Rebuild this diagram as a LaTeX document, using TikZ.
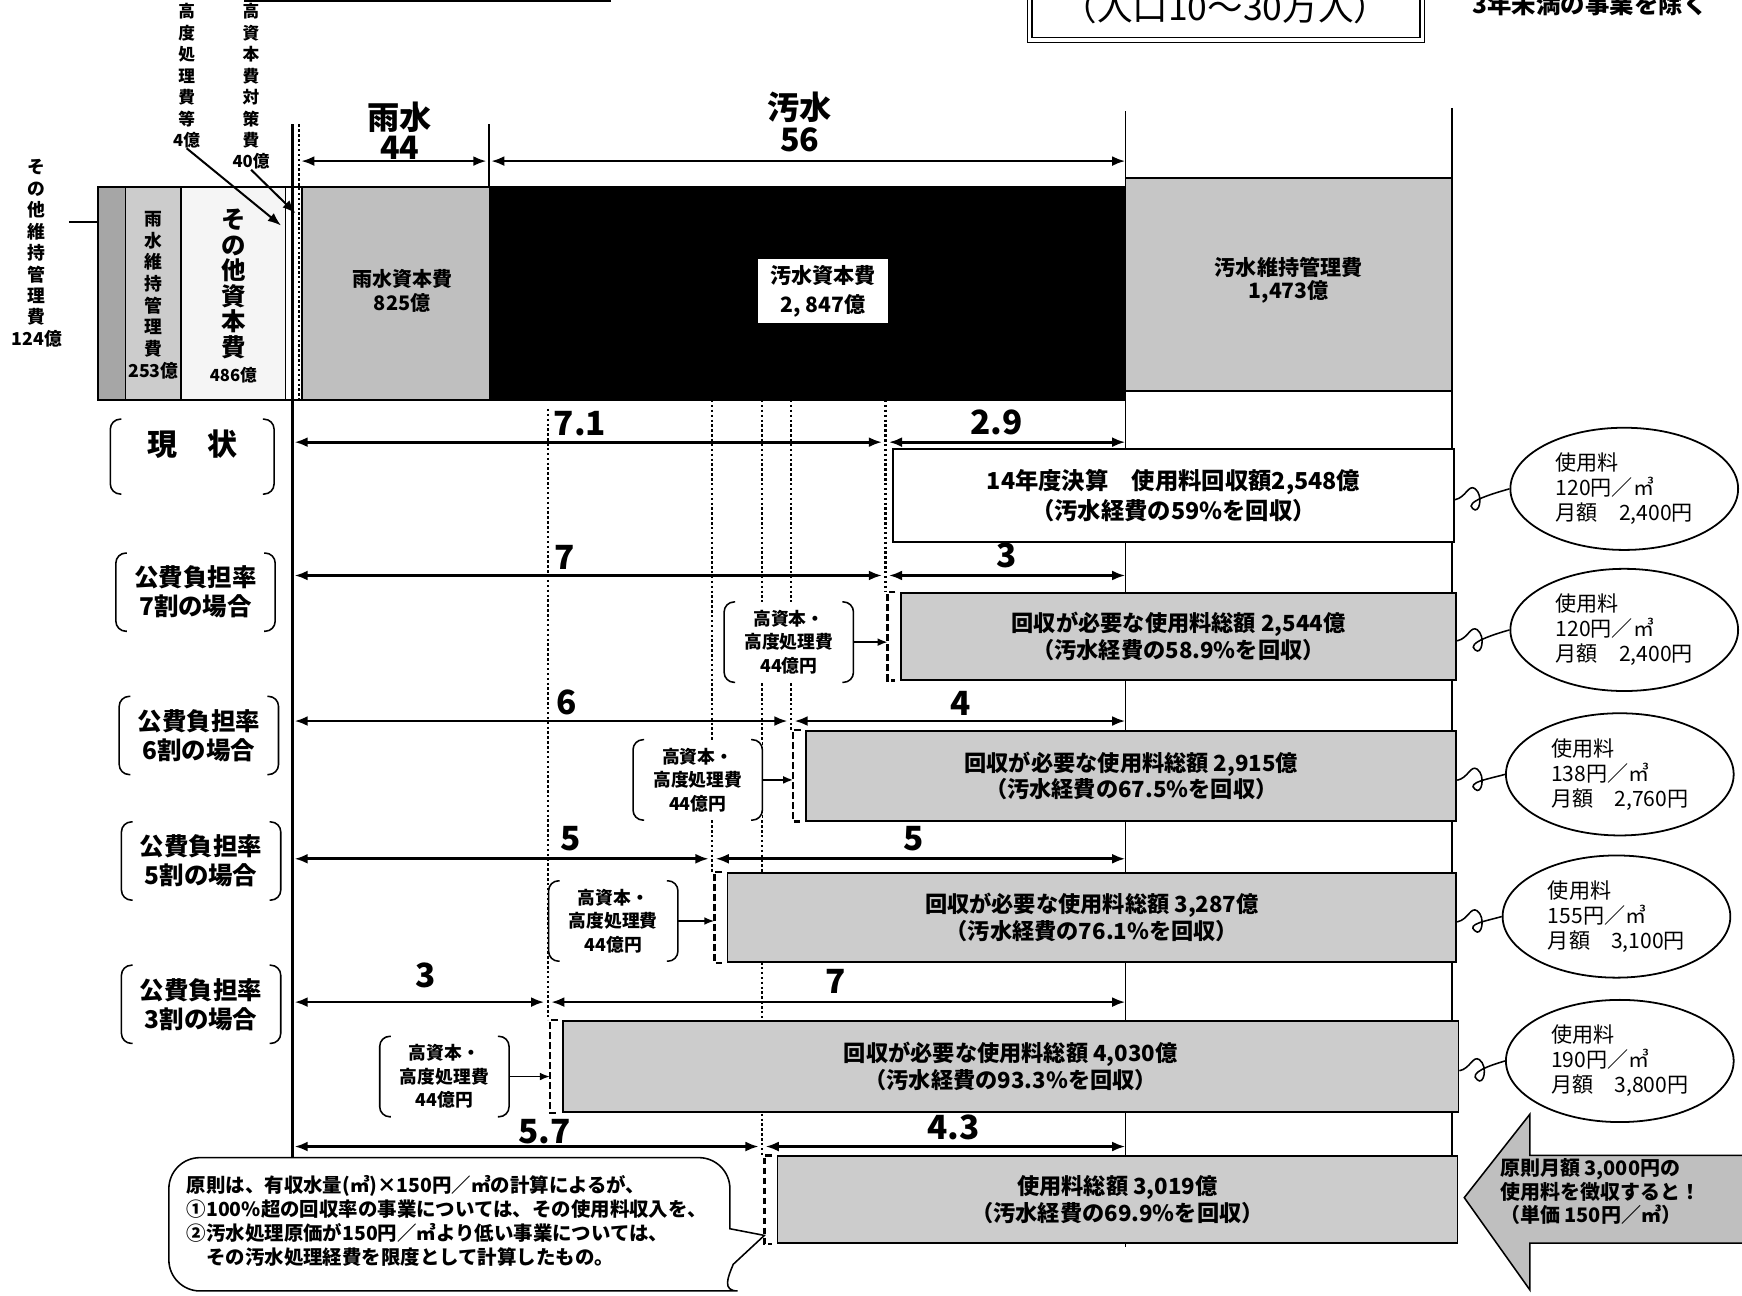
\documentclass[tikz,border=0pt]{standalone}
\usepackage{fontspec}
\setmainfont{Noto Sans CJK JP}
\usetikzlibrary{shapes.geometric,arrows,arrows.meta,calc,positioning}

\newcommand{\kakko}[1]{%
\draw[paren] ([xshift=10pt]#1.north west) -- (#1.north west) -- (#1.south west) -- ([xshift=10pt]#1.south west);
\draw[paren] ([xshift=-10pt]#1.north east) -- (#1.north east) -- (#1.south east) -- ([xshift=-10pt]#1.south east);}
\newcommand{\dbrack}[1]{%
\draw[dbr] ([xshift=-4pt]#1.north west) -- ([xshift=-11pt]#1.north west) -- ([xshift=-11pt]#1.south west) -- ([xshift=-4pt]#1.south west);}

\begin{document}
\begin{tikzpicture}[x=1pt,y=-1pt,>={Latex[length=12pt,width=9pt]},
  dim/.style={<->,line width=2.4pt},
  guide/.style={dash pattern=on 2.2pt off 2.2pt,line width=2pt},
  frame/.style={line width=1.6pt},
  rowbox/.style={draw,line width=1.6pt,anchor=north west,align=center,inner sep=0pt,font=\fontsize{20}{24}\selectfont\bfseries},
  hatch/.style={rowbox,fill=gray!40},
  num/.style={font=\fontsize{30}{30}\selectfont\bfseries},
  side/.style={minimum width=143,minimum height=70,align=center,font=\fontsize{22}{26}\selectfont\bfseries},
  kbox/.style={minimum width=116,minimum height=72,fill=white,align=center,font=\fontsize{16}{21}\selectfont\bfseries},
  pill/.style={ellipse,draw,line width=1.6pt,fill=white,minimum width=205,minimum height=110,align=left,font=\fontsize{19}{22.5}\selectfont},
  curl/.style={line width=1.4pt},
  dbr/.style={dash pattern=on 6pt off 3pt,line width=2.2pt},
  vtxt/.style={align=center,inner sep=0pt,font=\fontsize{16}{19.3}\selectfont\bfseries},
  paren/.style={line width=1.4pt,rounded corners=9pt}]
\useasboundingbox (0,0) rectangle (1568,1166);
\clip (0,0) rectangle (1568,1166);

% header remains
\draw[line width=2pt] (220,1) -- (550,1);
\draw[line width=1.2pt] (925,-40) rectangle (1282,38);
\draw[line width=1.2pt] (929,-40) rectangle (1278,34);
\node[font=\fontsize{32}{32}\selectfont] (pop) at (1103,6) {（人口10～30万人）};
\node[anchor=west,font=\fontsize{22}{22}\selectfont\bfseries] (excl) at (1322,4) {3年未満の事業を除く};

% stacked bar
\fill[gray!70] (88,168) rectangle (113,360);
\fill[gray!40] (113,168) rectangle (163,360);
\fill[gray!8] (163,168) rectangle (257,360);
\fill[gray!50] (272,168) rectangle (440,360);
\fill[black] (440,168) rectangle (1013,360);
\draw[frame] (88,168) rectangle (1013,360);
\draw[frame] (113,168) -- (113,360) (163,168) -- (163,360) (257,168) -- (257,360) (272,168) -- (272,360);
\draw[frame,fill=gray!45] (1013,160) rectangle (1307,352);

% rules
\draw[line width=3pt] (263,112) -- (263,1043);
\draw[guide] (269,112) -- (269,360);
\draw[frame] (440,112) -- (440,168);
\draw[frame] (1013,100) -- (1013,1122);
\draw[frame] (1307,97) -- (1307,1120);
\draw[guide] (797,360) -- (797,533);
\draw[guide] (712,360) -- (712,657);
\draw[guide] (641,360) -- (641,785);
\draw[guide] (493,368) -- (493,918);
\draw[guide] (686,360) -- (686,1040);

% bar labels
\node[vtxt] (t0) at (33,228) {そ\\の\\他\\維\\持\\管\\理\\費\\124億};
\node[vtxt,font=\fontsize{15}{19.3}\selectfont\bfseries,anchor=north] (t1) at (168,3) {高\\度\\処\\理\\費\\等\\4億};
\node[vtxt,font=\fontsize{15}{19.3}\selectfont\bfseries,anchor=north] (t2) at (226,3) {高\\資\\本\\費\\対\\策\\費\\40億};
\node[vtxt,anchor=north,font=\fontsize{16}{19.5}\selectfont\bfseries] (t3) at (138,190) {雨\\水\\維\\持\\管\\理\\費\\253億};
\node[vtxt,anchor=north,font=\fontsize{22}{23}\selectfont\bfseries] (t4) at (210,188) {そ\\の\\他\\資\\本\\費};
\node[font=\fontsize{15}{15}\selectfont\bfseries] (t4n) [below=4pt of t4] {486億};
\coordinate (p0) at (62,200);
\coordinate (p1) at (88,200);
\coordinate (a1) at (253,203);
\coordinate (a2) at (266,192);
\draw[frame] (p0) -- (p1);
\draw[line width=1.8pt,->] (t1.south) -- (a1);
\draw[line width=1.8pt,->] (t2.south) -- (a2);

\node[align=center,font=\fontsize{29}{27}\selectfont\bfseries] (u1) at (360,118) {雨水\\44};
\node[align=center,font=\fontsize{29}{29}\selectfont\bfseries] (u2) at (720,110) {汚水\\56};
\coordinate (T1) at (271,145);
\coordinate (T2) at (440,145);
\coordinate (T3) at (1013,145);
\draw[dim] (T1) -- ([xshift=-2pt]T2);
\draw[dim] ([xshift=2pt]T2) -- (T3);

\node[align=center,font=\fontsize{18}{22}\selectfont\bfseries] (c1) at (362,262) {雨水資本費\\825億};
\node[fill=white,minimum width=117,minimum height=58,align=center,font=\fontsize{19}{26}\selectfont\bfseries] (c2) at (741,262) {汚水資本費\\2, 847億};
\node[align=center,font=\fontsize{19}{21}\selectfont\bfseries] (c3) at (1160,252) {汚水維持管理費\\1,473億};

% left labels
\node[side,minimum width=147,minimum height=67] (g0) at (173,411) {};
\node[font=\fontsize{27}{27}\selectfont\bfseries] (g0t) [below=6pt of g0.north] {現　状};
\node[side] (g1) at (176,533) {公費負担率\\7割の場合};
\node[side] (g2) at (179,662) {公費負担率\\6割の場合};
\node[side] (g3) at (181,775) {公費負担率\\5割の場合};
\node[side] (g4) at (181,904) {公費負担率\\3割の場合};
\kakko{g0}
\kakko{g1}
\kakko{g2}
\kakko{g3}
\kakko{g4}

% row 0
\coordinate (L0) at (265,398); \coordinate (M0) at (797,398); \coordinate (R0) at (1013,398);
\draw[dim] (L0) -- ([xshift=-3pt]M0);
\draw[dim] ([xshift=3pt]M0) -- (R0);
\node[num] (n0a) at (522,381) {7.1};
\node[num] (n0b) at (897,380) {2.9};
\node[rowbox,fill=white,minimum width=505,minimum height=84,font=\fontsize{21}{27}\selectfont\bfseries] (b0) at (803,403) {14年度決算　使用料回収額2,548億\\（汚水経費の59\%を回収）};
\node[pill] (e0) at (1462,440) {使用料\\120円／㎥\\月額　2,400円};

% row 1
\coordinate (L1) at (265,518); \coordinate (M1) at (797,518); \coordinate (R1) at (1013,518);
\draw[dim] (L1) -- ([xshift=-3pt]M1);
\draw[dim] ([xshift=3pt]M1) -- (R1);
\node[num] (n1a) at (508,502) {7};
\node[num] (n1b) at (906,500) {3};
\node[hatch,minimum width=500,minimum height=78] (b1) at (810,533) {回収が必要な使用料総額 2,544億\\（汚水経費の58.9\%を回収）};
\node[kbox] (k1) at (710,578) {高資本・\\高度処理費\\44億円};
\node[pill] (e1) at (1462,567) {使用料\\120円／㎥\\月額　2,400円};

% row 2
\coordinate (L2) at (265,649); \coordinate (M2) at (712,649); \coordinate (R2) at (1013,649);
\draw[dim] (L2) -- ([xshift=-3pt]M2);
\draw[dim] ([xshift=3pt]M2) -- (R2);
\node[num] (n2a) at (510,632) {6};
\node[num] (n2b) at (865,633) {4};
\node[hatch,minimum width=585,minimum height=81] (b2) at (725,657) {回収が必要な使用料総額 2,915億\\（汚水経費の67.5\%を回収）};
\node[kbox] (k2) at (628,702) {高資本・\\高度処理費\\44億円};
\node[pill] (e2) at (1458,697) {使用料\\138円／㎥\\月額　2,760円};

% row 3
\coordinate (L3) at (265,773); \coordinate (M3) at (641,773); \coordinate (R3) at (1013,773);
\draw[dim] (L3) -- ([xshift=-3pt]M3);
\draw[dim] ([xshift=3pt]M3) -- (R3);
\node[num] (n3a) at (514,755) {5};
\node[num] (n3b) at (822,755) {5};
\node[hatch,minimum width=656,minimum height=80] (b3) at (654,785) {回収が必要な使用料総額 3,287億\\（汚水経費の76.1\%を回収）};
\node[kbox] (k3) at (552,829) {高資本・\\高度処理費\\44億円};
\node[pill] (e3) at (1455,825) {使用料\\155円／㎥\\月額　3,100円};

% row 4
\coordinate (L4) at (265,902); \coordinate (M4) at (493,902); \coordinate (R4) at (1013,902);
\draw[dim] (L4) -- ([xshift=-3pt]M4);
\draw[dim] ([xshift=3pt]M4) -- (R4);
\node[num] (n4a) at (383,878) {3};
\node[num] (n4b) at (752,883) {7};
\node[hatch,minimum width=806,minimum height=82] (b4) at (506,918) {回収が必要な使用料総額 4,030億\\（汚水経費の93.3\%を回収）};
\node[kbox] (k4) at (400,969) {高資本・\\高度処理費\\44億円};
\node[pill] (e4) at (1458,955) {使用料\\190円／㎥\\月額　3,800円};

% row 5
\coordinate (L5) at (265,1032); \coordinate (M5) at (686,1032); \coordinate (R5) at (1013,1032);
\draw[dim] (L5) -- ([xshift=-3pt]M5);
\draw[dim] ([xshift=3pt]M5) -- (R5);
\node[num] (n5a) at (490,1019) {5.7};
\node[num] (n5b) at (858,1015) {4.3};
\node[hatch,minimum width=612,minimum height=78] (b5) at (699,1040) {使用料総額 3,019億\\（汚水経費の69.9\%を回収）};

% brackets, arrows, curls
\foreach \r in {1,2,3,4,5} {\dbrack{b\r}}
\foreach \r in {1,2,3,4} {
  \kakko{k\r}
  \coordinate (d\r) at ([xshift=-11pt]b\r.west);
  \draw[line width=1.6pt,-{Latex[length=9pt,width=7pt]}] (k\r.east) -- (k\r.east -| d\r);
}
\foreach \r in {0,1,2,3,4} {
  \draw[curl] ([yshift=-4pt]b\r.east) .. controls +(10,-2) and +(-6,-4) .. ++(18,-10)
    .. controls +(8,6) and +(6,6) .. ++(-2,18)
    .. controls +(-8,-6) and +(-14,4) .. (e\r.west);
}

% note
\coordinate (tip) at (688,1112);
\draw[line width=1.4pt,fill=white] (tip) -- (657,1106) [rounded corners=28pt] -- (657,1042) -- (152,1042) -- (152,1162) -- (636,1162) [sharp corners] .. controls (650,1162) and (655,1150) .. (660,1138) -- cycle;
\node[anchor=north west,align=left,inner sep=0pt,font=\fontsize{17.5}{21.5}\selectfont\bfseries] (note) at (168,1058) {原則は、有収水量(㎥)×150円／㎥の計算によるが、\\①100\%超の回収率の事業については、その使用料収入を、\\②汚水処理原価が150円／㎥より低い事業については、\\　その汚水処理経費を限度として計算したもの。};

% big arrow
\draw[line width=1.4pt,fill=gray!50] (1318,1078) -- (1377,1003) -- (1377,1040) -- (1600,1040) -- (1600,1119) -- (1377,1119) -- (1377,1161) -- cycle;
\node[anchor=north west,align=left,inner sep=0pt,font=\fontsize{18}{21}\selectfont\bfseries] (rule) at (1350,1043) {原則月額 3,000円の\\使用料を徴収すると！\\（単価 150円／㎥）};
\end{tikzpicture}
\end{document}
